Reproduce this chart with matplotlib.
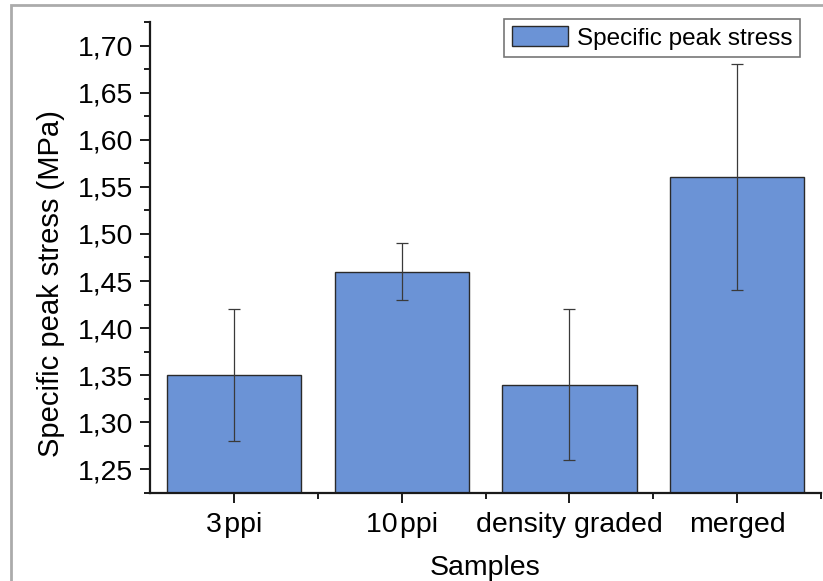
import matplotlib
matplotlib.use("Agg")
import matplotlib.pyplot as plt
from matplotlib.patches import Rectangle
from matplotlib.ticker import FixedLocator, FuncFormatter, MultipleLocator

plt.rcParams['font.family'] = ['Liberation Sans', 'DejaVu Sans']

samples = ["3ppi", "10ppi", "density graded", "merged"]
tick_labels = ["3\u200appi", "10\u200appi", "density graded", "merged"]
peak_stress = [1.35, 1.46, 1.34, 1.56]
stress_err = [0.07, 0.03, 0.08, 0.12]
y_ticks = [1.25, 1.30, 1.35, 1.40, 1.45, 1.50, 1.55, 1.60, 1.65, 1.70]

fig = plt.figure(figsize=(8.23, 5.81), dpi=100)
ax = fig.add_axes([0.1823, 0.1515, 0.8153, 0.8106])

# outer panel border
fig.patches.append(Rectangle((11 / 823, -0.1), 1.2, 1 - 5 / 581 + 0.1,
                             transform=fig.transFigure, fill=False,
                             edgecolor="#ababab", linewidth=2, zorder=0))

x = list(range(1, len(samples) + 1))
ax.bar(x, peak_stress, width=0.8, color="#6b93d6", edgecolor="#2a2a2a",
       linewidth=1.0, label="Specific peak stress", zorder=2)
ax.errorbar(x, peak_stress, yerr=stress_err, fmt="none", ecolor="#3a3a3a",
            elinewidth=0.9, capsize=4.5, capthick=0.9, zorder=3)

ax.set_xlim(0.5, 4.5)
ax.set_ylim(1.225, 1.725)

ax.spines['top'].set_visible(False)
ax.spines['right'].set_visible(False)
for s in ('left', 'bottom'):
    ax.spines[s].set_linewidth(1.6)
    ax.spines[s].set_color("#1a1a1a")

ax.set_xticks(x)
ax.set_xticklabels(tick_labels)
ax.xaxis.set_minor_locator(FixedLocator([1.5, 2.5, 3.5, 4.5]))
ax.yaxis.set_major_locator(FixedLocator(y_ticks))
ax.yaxis.set_minor_locator(MultipleLocator(0.025))
ax.yaxis.set_major_formatter(FuncFormatter(lambda v, p: f"{v:.2f}".replace(".", ",")))

ax.tick_params(axis='both', which='major', direction='out', length=7, width=1.4,
               labelsize=20.5, color="#1a1a1a")
ax.tick_params(axis='y', which='major', pad=5)
ax.tick_params(axis='x', which='major', pad=7)
ax.tick_params(axis='both', which='minor', direction='out', length=4.3, width=1.4,
               color="#1a1a1a")

ax.set_xlabel("Samples", fontsize=20.5, labelpad=12)
ax.set_ylabel("Specific peak stress (MPa)", fontsize=21)
ax.yaxis.set_label_coords(-0.126, 0.4437)

leg = ax.legend(loc="upper right", bbox_to_anchor=(0.9687, 1.006), fontsize=17.5,
                frameon=True, fancybox=False, edgecolor="#555555",
                handlelength=2.3, handleheight=0.85, borderpad=0.3,
                handletextpad=0.4, borderaxespad=0.0)
leg.get_frame().set_linewidth(1.2)

fig.savefig("out.png", dpi=100)
